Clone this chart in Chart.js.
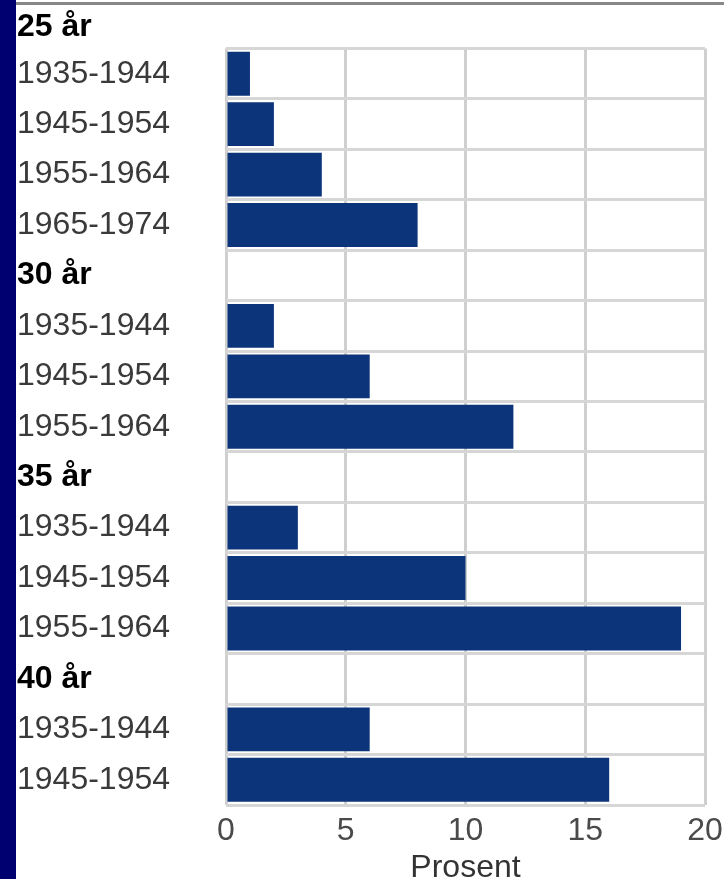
<!DOCTYPE html>
<html>
<head>
<meta charset="utf-8">
<script src="https://cdn.jsdelivr.net/npm/chart.js@4"></script>
<style>
  html, body { margin: 0; padding: 0; background: #ffffff; }
  body { width: 724px; height: 879px; position: relative; overflow: hidden; }
  #strip { position: absolute; left: 0; top: 0; width: 16px; height: 879px; background: #000070; }
  #topline { position: absolute; left: 16px; top: 2px; width: 708px; height: 3px; background: #888888; z-index: 2; }
  #wrap { position: absolute; left: 16px; top: 0; width: 708px; height: 879px; }
</style>
</head>
<body>
<div id="strip"></div>
<div id="wrap"><canvas id="c"></canvas></div>
<div id="topline"></div>
<script>
// Group headings (age) and birth cohorts
const groupHeaders = ['25 år', '30 år', '35 år', '40 år'];
const cohorts25 = ['1935-1944', '1945-1954', '1955-1964', '1965-1974'];
const cohorts30 = ['1935-1944', '1945-1954', '1955-1964'];
const cohorts35 = ['1935-1944', '1945-1954', '1955-1964'];
const cohorts40 = ['1935-1944', '1945-1954'];
// Percent values per group
const values25 = [1, 2, 4, 8];
const values30 = [2, 6, 12];
const values35 = [3, 10, 19];
const values40 = [6, 16];
// X axis
const xTicks = [0, 5, 10, 15, 20];
const xTitle = 'Prosent';

// First heading is shown above the plot; the others occupy empty rows.
const labels = [].concat(
  cohorts25,
  [groupHeaders[1]], cohorts30,
  [groupHeaders[2]], cohorts35,
  [groupHeaders[3]], cohorts40
);
const data = [].concat(
  values25,
  [null], values30,
  [null], values35,
  [null], values40
);
const isHeader = l => groupHeaders.includes(l);

const FONT = "'Liberation Sans', Arial, sans-serif";

new Chart(document.getElementById('c'), {
  type: 'bar',
  data: {
    labels: labels,
    datasets: [{
      data: data,
      backgroundColor: '#0b347a',
      borderWidth: 0,
      categoryPercentage: 1.0,
      barPercentage: 0.87
    }]
  },
  options: {
    indexAxis: 'y',
    responsive: true,
    maintainAspectRatio: false,
    animation: false,
    layout: { padding: { left: 1, right: 0, top: 0, bottom: 0 } },
    plugins: {
      legend: { display: false },
      tooltip: { enabled: false },
      title: {
        display: true,
        text: groupHeaders[0],
        align: 'start',
        color: '#000000',
        font: { family: FONT, size: 32, weight: 'bold', lineHeight: 1.2 },
        padding: { top: 7.5, bottom: 2.6 }
      }
    },
    scales: {
      x: {
        min: xTicks[0],
        max: xTicks[xTicks.length - 1],
        afterBuildTicks: s => { s.ticks = xTicks.map(v => ({ value: v })); },
        afterFit: s => { s.height = 74; s.paddingRight = 19; },
        ticks: {
          color: '#4a4a4a',
          padding: 7,
          font: { family: FONT, size: 32, lineHeight: 1.2 }
        },
        grid: { color: '#cfcfcf', lineWidth: 3, drawTicks: false },
        border: { display: false },
        title: {
          display: true,
          text: xTitle,
          color: '#333333',
          font: { family: FONT, size: 32, lineHeight: 0.65 },
          padding: { top: 0, bottom: 0 }
        }
      },
      y: {
        afterFit: s => { s.width = 209; },
        ticks: {
          autoSkip: false,
          crossAlign: 'far',
          padding: 0,
          color: ctx => isHeader(labels[ctx.index]) ? '#000000' : '#3a3a3a',
          font: ctx => ({
            family: FONT,
            size: 32,
            weight: isHeader(labels[ctx.index]) ? 'bold' : 'normal'
          })
        },
        grid: { color: '#d6d6d6', lineWidth: 3, drawTicks: false, offset: true },
        border: { display: false }
      }
    }
  }
});
</script>
</body>
</html>
